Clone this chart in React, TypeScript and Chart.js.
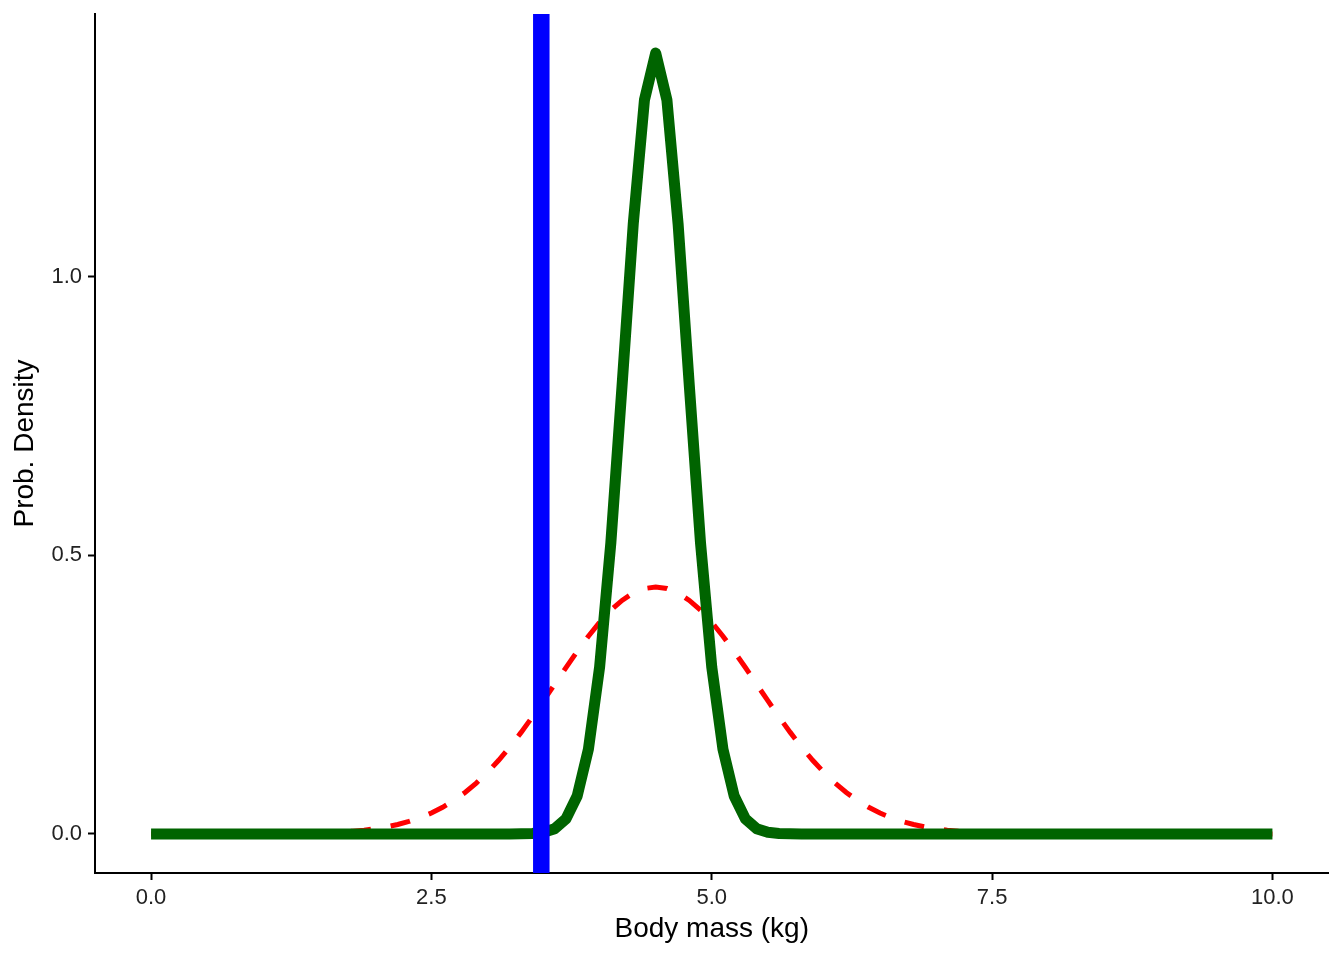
import React, { useEffect, useRef } from "react";
import { Chart, registerables } from "chart.js";

Chart.register(...registerables);

// Body mass grid (kg)
const massKg = [
  0.0, 0.1, 0.2, 0.3, 0.4, 0.5, 0.6, 0.7, 0.8, 0.9,
  1.0, 1.1, 1.2, 1.3, 1.4, 1.5, 1.6, 1.7, 1.8, 1.9,
  2.0, 2.1, 2.2, 2.3, 2.4, 2.5, 2.6, 2.7, 2.8, 2.9,
  3.0, 3.1, 3.2, 3.3, 3.4, 3.5, 3.6, 3.7, 3.8, 3.9,
  4.0, 4.1, 4.2, 4.3, 4.4, 4.5, 4.6, 4.7, 4.8, 4.9,
  5.0, 5.1, 5.2, 5.3, 5.4, 5.5, 5.6, 5.7, 5.8, 5.9,
  6.0, 6.1, 6.2, 6.3, 6.4, 6.5, 6.6, 6.7, 6.8, 6.9,
  7.0, 7.1, 7.2, 7.3, 7.4, 7.5, 7.6, 7.7, 7.8, 7.9,
  8.0, 8.1, 8.2, 8.3, 8.4, 8.5, 8.6, 8.7, 8.8, 8.9,
  9.0, 9.1, 9.2, 9.3, 9.4, 9.5, 9.6, 9.7, 9.8, 9.9,
  10.0,
];

// Red dashed curve (wide density)
const wideDensity = [
  0, 0, 0, 0, 0, 0, 0, 0.0001, 0.0001, 0.0001,
  0.0002, 0.0004, 0.0005, 0.0008, 0.0012, 0.0017, 0.0025, 0.0035, 0.0049, 0.0068,
  0.0094, 0.0127, 0.0170, 0.0224, 0.0292, 0.0375, 0.0478, 0.0600, 0.0744, 0.0913,
  0.1105, 0.1322, 0.1562, 0.1823, 0.2101, 0.2392, 0.2689, 0.2987, 0.3276, 0.3550,
  0.3799, 0.4016, 0.4193, 0.4325, 0.4406, 0.4433, 0.4406, 0.4325, 0.4193, 0.4016,
  0.3799, 0.3550, 0.3276, 0.2987, 0.2689, 0.2392, 0.2101, 0.1823, 0.1562, 0.1322,
  0.1105, 0.0913, 0.0744, 0.0600, 0.0478, 0.0375, 0.0292, 0.0224, 0.0170, 0.0127,
  0.0094, 0.0068, 0.0049, 0.0035, 0.0025, 0.0017, 0.0012, 0.0008, 0.0005, 0.0004,
  0.0002, 0.0001, 0.0001, 0.0001, 0, 0, 0, 0, 0, 0,
  0, 0, 0, 0, 0, 0, 0, 0, 0, 0,
  0,
];

// Green solid curve (narrow density)
const narrowDensity = [
  0, 0, 0, 0, 0, 0, 0, 0, 0, 0,
  0, 0, 0, 0, 0, 0, 0, 0, 0, 0,
  0, 0, 0, 0, 0, 0, 0, 0, 0, 0,
  0, 0, 0, 0.0002, 0.0008, 0.0029, 0.0094, 0.0270, 0.0681, 0.1519,
  0.2995, 0.5221, 0.8043, 1.0951, 1.3178, 1.4018, 1.3178, 1.0951, 0.8043, 0.5221,
  0.2995, 0.1519, 0.0681, 0.0270, 0.0094, 0.0029, 0.0008, 0.0002, 0, 0,
  0, 0, 0, 0, 0, 0, 0, 0, 0, 0,
  0, 0, 0, 0, 0, 0, 0, 0, 0, 0,
  0, 0, 0, 0, 0, 0, 0, 0, 0, 0,
  0, 0, 0, 0, 0, 0, 0, 0, 0, 0,
  0,
];

// Vertical reference line
const observedMass = 3.48;

const xTicks = [0, 2.5, 5, 7.5, 10];
const yTicks = [0, 0.5, 1.0];
const xLimits = [-0.5, 10.5];
const yLimits = [-0.0701, 1.4719];
const xTitle = "Body mass (kg)";
const yTitle = "Prob. Density";

export default function App() {
  const ref = useRef<HTMLCanvasElement>(null);

  useEffect(() => {
    document.body.style.margin = "0";
    const canvas = ref.current;
    if (!canvas) return;
    const family = "'Liberation Sans', Arial, sans-serif";

    const chart = new Chart(canvas, {
      type: "line",
      data: {
        datasets: [
          {
            label: "observed",
            data: [
              { x: observedMass, y: yLimits[0] },
              { x: observedMass, y: yLimits[1] },
            ],
            borderColor: "#0000FF",
            borderWidth: 16.5,
            borderCapStyle: "butt",
            pointRadius: 0,
            order: 0,
          },
          {
            label: "narrow",
            data: massKg.map((x, i) => ({ x, y: narrowDensity[i] })),
            borderColor: "#006400",
            borderWidth: 11,
            borderCapStyle: "butt",
            borderJoinStyle: "round",
            pointRadius: 0,
            tension: 0,
            order: 1,
          },
          {
            label: "wide",
            data: massKg.map((x, i) => ({ x, y: wideDensity[i] })),
            borderColor: "#FF0000",
            borderWidth: 5,
            borderDash: [20, 20],
            borderCapStyle: "butt",
            pointRadius: 0,
            tension: 0,
            order: 2,
          },
        ],
      },
      options: {
        responsive: false,
        animation: false,
        layout: { padding: { left: 0, top: 14, right: 15.5, bottom: 0 } },
        plugins: {
          legend: { display: false },
          tooltip: { enabled: false },
        },
        scales: {
          x: {
            type: "linear",
            min: xLimits[0],
            max: xLimits[1],
            afterBuildTicks: (s: any) => {
              s.ticks = xTicks.map((v) => ({ value: v }));
            },
            afterFit: (s: any) => {
              s.height = 87;
              s.paddingLeft = 0;
              s.paddingRight = 0;
            },
            grid: {
              drawOnChartArea: false,
              drawTicks: true,
              tickLength: 7,
              tickWidth: 2,
              tickColor: "#000",
            },
            border: { display: true, color: "#000", width: 2 },
            ticks: {
              font: { family, size: 22 },
              color: "#222",
              padding: 5,
              maxRotation: 0,
              autoSkip: false,
              callback: (v: any) => Number(v).toFixed(1),
            },
            title: {
              display: true,
              text: xTitle,
              font: { family, size: 28 },
              color: "#000",
              padding: { top: 0, bottom: 13.6 },
            },
          },
          y: {
            type: "linear",
            min: yLimits[0],
            max: yLimits[1],
            afterBuildTicks: (s: any) => {
              s.ticks = yTicks.map((v) => ({ value: v }));
            },
            afterFit: (s: any) => {
              s.width = 95;
              s.paddingTop = 0;
              s.paddingBottom = 0;
            },
            grid: {
              drawOnChartArea: false,
              drawTicks: true,
              tickLength: 7,
              tickWidth: 2,
              tickColor: "#000",
            },
            border: { display: true, color: "#000", width: 2 },
            ticks: {
              font: { family, size: 22 },
              color: "#222",
              padding: 6,
              autoSkip: false,
              callback: (v: any) => Number(v).toFixed(1),
            },
            title: {
              display: true,
              text: yTitle,
              font: { family, size: 28 },
              color: "#000",
              padding: { top: 8.5, bottom: 0 },
            },
          },
        },
      },
    } as any);

    return () => chart.destroy();
  }, []);

  return (
    <canvas
      ref={ref}
      width={1344}
      height={960}
      style={{ display: "block", width: 1344, height: 960 }}
    />
  );
}
